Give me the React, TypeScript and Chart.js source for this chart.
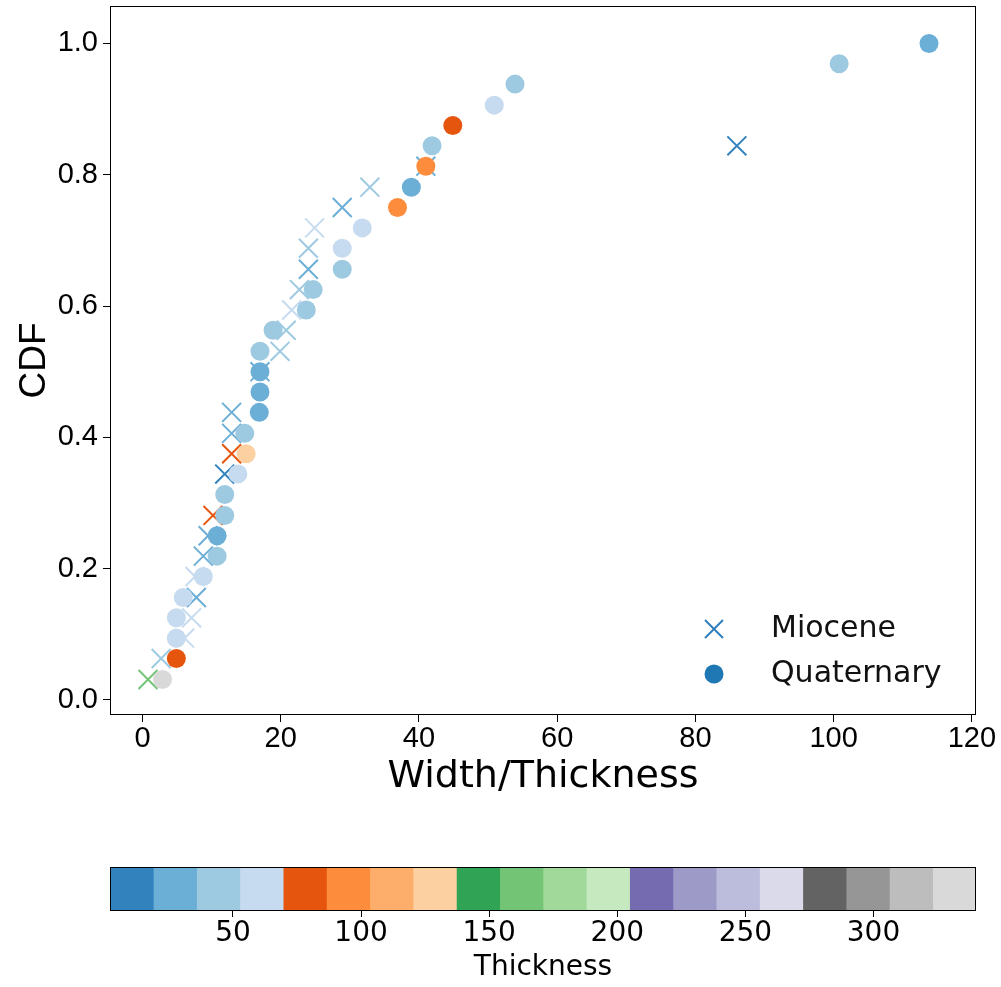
import React, { useEffect, useRef } from "react";
import { Chart, registerables } from "chart.js";

Chart.register(...registerables);

// tab20c colormap (20 discrete colours)
const TAB20C = [
  "#3182bd", "#6baed6", "#9ecae1", "#c6dbef",
  "#e6550d", "#fd8d3c", "#fdae6b", "#fdd0a2",
  "#31a354", "#74c476", "#a1d99b", "#c7e9c0",
  "#756bb1", "#9e9ac8", "#bcbddc", "#dadaeb",
  "#636363", "#969696", "#bdbdbd", "#d9d9d9",
];
const THICK_MIN = 2;
const THICK_MAX = 340;

// Miocene
const mioceneWT = [0.8, 2.7, 6.1, 7.1, 7.8, 7.6, 8.8, 9.5, 10.2, 11.9, 12.9, 12.9, 12.9, 17.0, 19.9, 20.8, 21.6, 22.7, 24.0, 24.0, 24.9, 28.9, 32.9, 41.0, 86.0];
const mioceneCDF = [0.031, 0.063, 0.094, 0.125, 0.156, 0.188, 0.219, 0.25, 0.281, 0.344, 0.375, 0.406, 0.438, 0.5, 0.531, 0.563, 0.594, 0.625, 0.656, 0.688, 0.719, 0.75, 0.781, 0.813, 0.844];
const mioceneThickness = [160, 50, 60, 62, 28, 58, 30, 26, 78, 10, 80, 30, 32, 28, 46, 42, 64, 40, 25, 48, 60, 22, 44, 27, 12];

// Quaternary
const quaternaryWT = [2.9, 4.9, 4.9, 4.9, 5.9, 8.8, 10.8, 10.8, 11.9, 11.9, 13.8, 15.0, 14.8, 16.9, 17.0, 17.0, 17.0, 18.9, 23.7, 24.7, 28.9, 28.9, 31.8, 36.9, 38.9, 41.0, 41.9, 44.9, 50.9, 53.9, 100.8, 113.8];
const quaternaryCDF = [0.031, 0.063, 0.094, 0.125, 0.156, 0.188, 0.219, 0.25, 0.281, 0.313, 0.344, 0.375, 0.406, 0.438, 0.469, 0.5, 0.531, 0.563, 0.594, 0.625, 0.656, 0.688, 0.719, 0.75, 0.781, 0.813, 0.844, 0.875, 0.906, 0.938, 0.969, 1.0];
const quaternaryThickness = [335, 78, 60, 62, 58, 63, 45, 28, 44, 48, 60, 130, 45, 27, 27, 29, 42, 44, 46, 44, 42, 60, 62, 95, 28, 92, 45, 80, 60, 44, 46, 27];

const seriesNames = ["Miocene", "Quaternary"];
const xTitle = "Width/Thickness";
const yTitle = "CDF";
const cbarTitle = "Thickness";

function thicknessColor(t: number): string {
  let k = Math.floor(((t - THICK_MIN) / (THICK_MAX - THICK_MIN)) * TAB20C.length);
  if (k < 0) k = 0;
  if (k > TAB20C.length - 1) k = TAB20C.length - 1;
  return TAB20C[k];
}

const framePlugin = {
  id: "frame",
  afterDatasetsDraw(chart: any) {
    const { ctx, chartArea } = chart;
    ctx.save();
    ctx.strokeStyle = "#000";
    ctx.lineWidth = 1;
    ctx.strokeRect(
      Math.round(chartArea.left) + 0.5,
      Math.round(chartArea.top) + 0.5,
      Math.round(chartArea.right - chartArea.left) - 1,
      Math.round(chartArea.bottom - chartArea.top) - 1
    );
    ctx.restore();
  },
};

const legendPlugin = {
  id: "cornerLegend",
  afterDraw(chart: any) {
    const { ctx, chartArea } = chart;
    const mx = chartArea.right - 262;
    const y1 = chartArea.bottom - 86;
    const y2 = chartArea.bottom - 41;
    ctx.save();
    ctx.strokeStyle = "#2f7fbf";
    ctx.lineWidth = 2;
    const h = 9;
    ctx.beginPath();
    ctx.moveTo(mx - h, y1 - h);
    ctx.lineTo(mx + h, y1 + h);
    ctx.moveTo(mx - h, y1 + h);
    ctx.lineTo(mx + h, y1 - h);
    ctx.stroke();
    ctx.fillStyle = "#1f77b4";
    ctx.beginPath();
    ctx.arc(mx, y2, 9.5, 0, Math.PI * 2);
    ctx.fill();
    ctx.fillStyle = "#111";
    ctx.font = "30px 'DejaVu Sans'";
    ctx.textAlign = "left";
    ctx.textBaseline = "alphabetic";
    ctx.fillText(seriesNames[0], mx + 57, y1 + 8);
    ctx.fillText(seriesNames[1], mx + 57, y2 + 8);
    ctx.restore();
  },
};

export default function App() {
  const mainRef = useRef<HTMLCanvasElement | null>(null);
  const cbarRef = useRef<HTMLCanvasElement | null>(null);

  useEffect(() => {
    const tickFont = { family: "'Liberation Sans', Arial, sans-serif", size: 29 };
    const main = new Chart(mainRef.current as HTMLCanvasElement, {
      type: "scatter",
      data: {
        datasets: [
          {
            label: seriesNames[1],
            data: quaternaryWT.map((x, i) => ({ x, y: quaternaryCDF[i] })),
            pointStyle: "circle",
            pointRadius: 9.5,
            pointHoverRadius: 9.5,
            pointBackgroundColor: quaternaryThickness.map(thicknessColor),
            pointBorderWidth: 0,
            borderWidth: 0,
            order: 1,
          } as any,
          {
            label: seriesNames[0],
            data: mioceneWT.map((x, i) => ({ x, y: mioceneCDF[i] })),
            pointStyle: "crossRot",
            pointRadius: 13.4,
            pointHoverRadius: 13.4,
            pointBorderColor: mioceneThickness.map(thicknessColor),
            pointBackgroundColor: mioceneThickness.map(thicknessColor),
            pointBorderWidth: 2,
            order: 2,
          } as any,
        ],
      },
      options: {
        responsive: false,
        animation: false,
        events: [],
        layout: { autoPadding: false, padding: { top: 6, right: 25, left: 0, bottom: 0 } },
        plugins: { legend: { display: false }, tooltip: { enabled: false } },
        scales: {
          x: {
            type: "linear",
            min: -4.7,
            max: 120.6,
            afterFit: (s: any) => {
              s.height = 85;
              s.paddingLeft = 0;
              s.paddingRight = 0;
            },
            ticks: {
              stepSize: 20,
              includeBounds: false,
              font: tickFont,
              color: "#000",
              padding: 0,
              maxRotation: 0,
              autoSkip: false,
              callback: (v: any) => String(v),
            },
            grid: { drawOnChartArea: false, drawTicks: true, tickLength: 7, color: "#000", tickWidth: 1 },
            border: { display: false },
            title: {
              display: true,
              text: xTitle,
              font: { family: "'DejaVu Sans', sans-serif", size: 38 },
              color: "#000",
              padding: { top: 0, bottom: 0 },
            },
          },
          y: {
            type: "linear",
            min: -0.023,
            max: 1.057,
            afterFit: (s: any) => {
              s.width = 110;
              s.paddingTop = 0;
              s.paddingBottom = 0;
            },
            ticks: {
              stepSize: 0.2,
              includeBounds: false,
              font: tickFont,
              color: "#000",
              padding: 5,
              callback: (v: any) => Number(v).toFixed(1),
            },
            grid: { drawOnChartArea: false, drawTicks: true, tickLength: 7, color: "#000", tickWidth: 1 },
            border: { display: false },
            title: {
              display: true,
              text: yTitle,
              font: { family: "'Liberation Sans', Arial, sans-serif", size: 37 },
              color: "#000",
              padding: { top: 13, bottom: 0 },
            },
          },
        },
      } as any,
      plugins: [framePlugin, legendPlugin],
    });

    const nSeg = TAB20C.length;
    const segEdge = (k: number) => THICK_MIN + (k * (THICK_MAX - THICK_MIN)) / nSeg;
    const cbar = new Chart(cbarRef.current as HTMLCanvasElement, {
      type: "bar",
      data: {
        labels: [""],
        datasets: TAB20C.map((c, k) => ({
          data: [[segEdge(k), segEdge(k + 1)]],
          backgroundColor: c,
          borderWidth: 0,
          grouped: false,
          barPercentage: 1,
          categoryPercentage: 1,
        })) as any,
      },
      options: {
        indexAxis: "y",
        responsive: false,
        animation: false,
        events: [],
        layout: { autoPadding: false, padding: { top: 67, left: 110, right: 25, bottom: 0 } },
        plugins: { legend: { display: false }, tooltip: { enabled: false } },
        scales: {
          x: {
            type: "linear",
            min: THICK_MIN,
            max: THICK_MAX,
            afterFit: (s: any) => {
              s.height = 76;
              s.paddingLeft = 0;
              s.paddingRight = 0;
            },
            ticks: {
              stepSize: 50,
              includeBounds: false,
              font: { family: "'DejaVu Sans', sans-serif", size: 28 },
              color: "#000",
              padding: 0,
              maxRotation: 0,
              autoSkip: false,
            },
            grid: { drawOnChartArea: false, drawTicks: true, tickLength: 6, color: "#000" },
            border: { display: false },
            title: {
              display: true,
              text: cbarTitle,
              font: { family: "'DejaVu Sans', sans-serif", size: 28 },
              color: "#000",
              padding: { top: 0, bottom: 2 },
            },
          },
          y: { display: false },
        },
      } as any,
      plugins: [framePlugin],
    });

    return () => {
      main.destroy();
      cbar.destroy();
    };
  }, []);

  return (
    <div style={{ position: "absolute", left: 0, top: 0, width: 1001, height: 987, background: "#fff" }}>
      <canvas ref={mainRef} width={1001} height={800} style={{ position: "absolute", left: 0, top: 0 }} />
      <canvas ref={cbarRef} width={1001} height={187} style={{ position: "absolute", left: 0, top: 800 }} />
    </div>
  );
}
